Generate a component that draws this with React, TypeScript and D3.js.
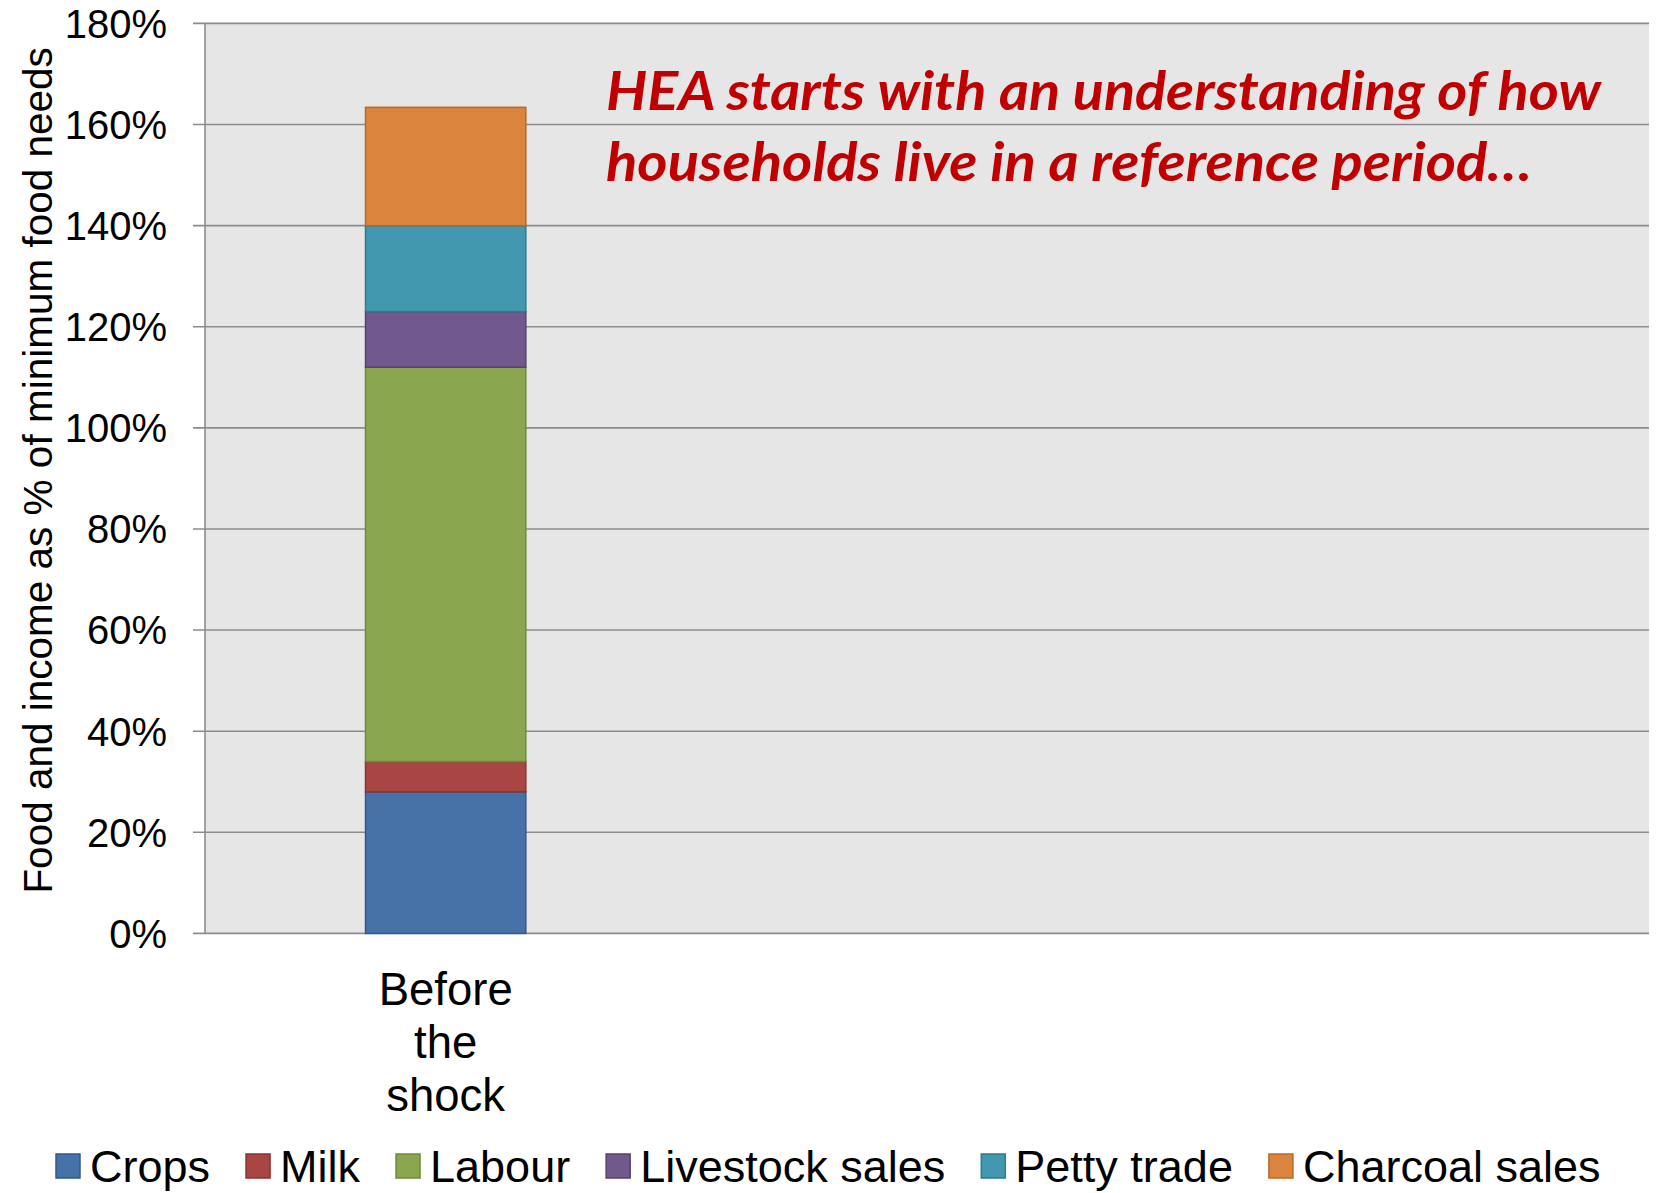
import React, { useEffect, useRef } from "react";
import * as d3 from "d3";

const categories = ["Before the shock", "", ""];
const seriesNames = ["Crops", "Milk", "Labour", "Livestock sales", "Petty trade", "Charcoal sales"];
const crops = [28, 0, 0];
const milk = [6, 0, 0];
const labour = [78, 0, 0];
const livestockSales = [11, 0, 0];
const pettyTrade = [17, 0, 0];
const charcoalSales = [23.4, 0, 0];
const seriesValues = [crops, milk, labour, livestockSales, pettyTrade, charcoalSales];
const fillColors = ["#4672A8", "#A94644", "#8AA74F", "#71598E", "#4198AF", "#DB843D"];
const strokeColors = ["#35588A", "#8A3230", "#6F8A3A", "#574370", "#2E7A8E", "#B56A2A"];
const yTicks = [0, 20, 40, 60, 80, 100, 120, 140, 160, 180];
const yTitle = "Food and income as % of minimum food needs";
const annotationLines = ["HEA starts with an understanding of how", "households live in a reference period…"];

const W = 1665;
const H = 1193;

export default function App() {
  const ref = useRef<SVGSVGElement | null>(null);

  useEffect(() => {
    const svg = d3.select(ref.current);
    svg.selectAll("*").remove();

    const m = { left: 205, right: 1649, top: 23.4, bottom: 933.4 };
    const x = d3
      .scaleBand<number>()
      .domain(d3.range(categories.length))
      .range([m.left, m.right])
      .paddingInner(0.667)
      .paddingOuter(0.3335);
    const y = d3.scaleLinear().domain([0, 180]).range([m.bottom, m.top]);

    const font = "'Liberation Sans', Arial, Helvetica, sans-serif";

    svg
      .append("rect")
      .attr("x", m.left)
      .attr("y", m.top)
      .attr("width", m.right - m.left)
      .attr("height", m.bottom - m.top)
      .attr("fill", "#E6E6E6");

    svg
      .append("g")
      .selectAll("line")
      .data(yTicks)
      .join("line")
      .attr("x1", m.left - 12)
      .attr("x2", m.right)
      .attr("y1", (d) => y(d))
      .attr("y2", (d) => y(d))
      .attr("stroke", "#8C8C8C")
      .attr("stroke-width", 1.6);

    svg
      .append("line")
      .attr("x1", m.left)
      .attr("x2", m.left)
      .attr("y1", m.top)
      .attr("y2", m.bottom)
      .attr("stroke", "#8C8C8C")
      .attr("stroke-width", 1.6);

    svg
      .append("g")
      .selectAll("text")
      .data(yTicks)
      .join("text")
      .attr("x", 167)
      .attr("y", (d) => y(d))
      .attr("dy", "0.36em")
      .attr("text-anchor", "end")
      .attr("font-family", font)
      .attr("font-size", 40)
      .attr("fill", "#000")
      .text((d) => `${d}%`);

    svg
      .append("text")
      .attr("transform", `translate(52, ${(m.top + m.bottom) / 2 - 8}) rotate(-90)`)
      .attr("text-anchor", "middle")
      .attr("font-family", font)
      .attr("font-size", 40.5)
      .attr("fill", "#000")
      .text(yTitle);

    const rows = categories.map((c, i) => {
      const o: any = { idx: i };
      seriesNames.forEach((s, j) => (o[s] = seriesValues[j][i]));
      return o;
    });
    const stacked = d3.stack<any>().keys(seriesNames)(rows);
    const g = svg.append("g");
    stacked.forEach((layer, j) => {
      g.append("g")
        .selectAll("rect")
        .data(layer.filter((d) => d[1] - d[0] > 0))
        .join("rect")
        .attr("x", (d) => x(d.data.idx)!)
        .attr("width", x.bandwidth())
        .attr("y", (d) => y(d[1]))
        .attr("height", (d) => y(d[0]) - y(d[1]))
        .attr("fill", fillColors[j])
        .attr("stroke", strokeColors[j])
        .attr("stroke-width", 1.5);
    });

    categories.forEach((c, i) => {
      if (!c) return;
      const words = c.split(" ");
      const t = svg
        .append("text")
        .attr("text-anchor", "middle")
        .attr("font-family", font)
        .attr("font-size", 45.5)
        .attr("fill", "#000");
      words.forEach((w, k) => {
        t.append("tspan")
          .attr("x", x(i)! + x.bandwidth() / 2)
          .attr("y", 1005 + k * 53)
          .text(w);
      });
    });

    const annWidths = [995, 926];
    annotationLines.forEach((line, k) => {
      svg
        .append("text")
        .attr("x", 606)
        .attr("y", 110 + k * 71)
        .attr("font-family", "Lato, 'Open Sans', sans-serif")
        .attr("font-weight", "bold")
        .attr("font-style", "italic")
        .attr("font-size", 53)
        .attr("fill", "#C00000")
        .attr("textLength", annWidths[k])
        .attr("lengthAdjust", "spacingAndGlyphs")
        .text(line);
    });

    const lg = svg.append("g");
    let cx = 56;
    const cy = 1166;
    const sq = 24;
    seriesNames.forEach((s, j) => {
      lg.append("rect")
        .attr("x", cx)
        .attr("y", cy - sq / 2)
        .attr("width", sq)
        .attr("height", sq)
        .attr("fill", fillColors[j])
        .attr("stroke", strokeColors[j])
        .attr("stroke-width", 1.5);
      const t = lg
        .append("text")
        .attr("x", cx + sq + 10)
        .attr("y", cy)
        .attr("dy", "0.36em")
        .attr("font-family", font)
        .attr("font-size", 45)
        .attr("fill", "#000")
        .text(s);
      const w = (t.node() as SVGTextElement).getComputedTextLength();
      cx += sq + 10 + w + 36;
    });
  }, []);

  return (
    <svg
      ref={ref}
      width={W}
      height={H}
      style={{ position: "absolute", left: 0, top: 0, background: "#fff" }}
    />
  );
}
